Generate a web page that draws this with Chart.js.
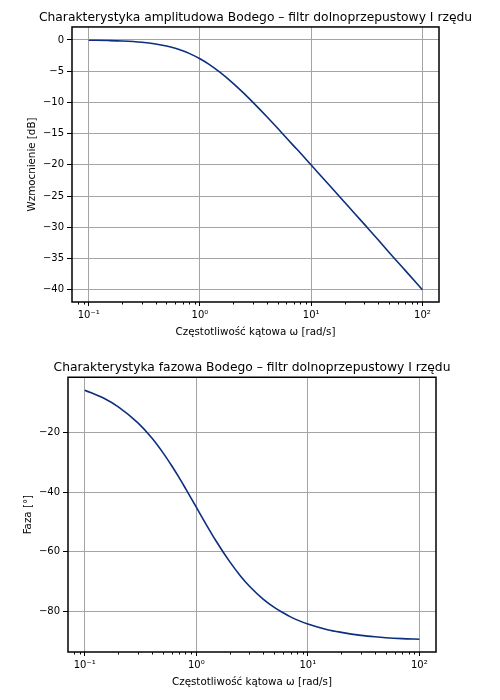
<!DOCTYPE html>
<html>
<head>
<meta charset="utf-8">
<script src="https://cdn.jsdelivr.net/npm/chart.js@4.4.0/dist/chart.umd.min.js"></script>
<style>
  html, body { margin: 0; padding: 0; background: #fff; }
  .box { position: absolute; left: 0; width: 500px; height: 350px; }
  #b1 { top: 0; } #b2 { top: 350px; }
</style>
</head>
<body>
<div class="box" id="b1"><canvas id="c1" width="500" height="350"></canvas></div>
<div class="box" id="b2"><canvas id="c2" width="500" height="350"></canvas></div>
<script>
const omega = [0.1, 0.15, 0.2, 0.3, 0.4, 0.5, 0.6, 0.7, 0.8, 1, 1.2, 1.5, 2, 2.5, 3, 4, 5, 6, 7, 8, 10, 15, 20, 30, 40, 50, 70, 100];
// Gain [dB]
const gainDb = [-0.04, -0.1, -0.17, -0.37, -0.64, -0.97, -1.34, -1.73, -2.15, -3.01, -3.87, -5.12, -6.99, -8.6, -10.0, -12.3, -14.15, -15.7, -17.0, -18.1, -20.04, -23.5, -26.0, -29.5, -32.0, -34.0, -36.9, -40.0];
// Phase [deg]
const phaseDeg = [-5.7, -8.5, -11.3, -16.7, -21.8, -26.6, -31.0, -35.0, -38.7, -45.0, -50.2, -56.3, -63.4, -68.2, -71.6, -76.0, -78.7, -80.5, -81.9, -82.9, -84.3, -86.2, -87.1, -88.1, -88.6, -88.9, -89.2, -89.4];

const xMajorTicks = [0.1, 1, 10, 100];
const xTickLabels = ['10\u207B\u00B9', '10\u2070', '10\u00B9', '10\u00B2'];
const xMinorTicks = [0.08, 0.09, 0.2, 0.3, 0.4, 0.5, 0.6, 0.7, 0.8, 0.9, 2, 3, 4, 5, 6, 7, 8, 9, 20, 30, 40, 50, 60, 70, 80, 90];
const gainTicks = [0, -5, -10, -15, -20, -25, -30, -35, -40];
const phaseTicks = [-20, -40, -60, -80];

const FONT = 'DejaVu Sans';
const LINE = '#0b2f7e';
const GRID = '#a4a4a4';

const framePlugin = {
  id: 'frame',
  afterDatasetsDraw(chart) {
    const ctx = chart.ctx, a = chart.chartArea;
    const xs = chart.scales.x;
    ctx.save();
    ctx.strokeStyle = '#000';
    ctx.lineWidth = 1;
    ctx.beginPath();
    xMinorTicks.forEach(v => {
      if (v < xs.min || v > xs.max) return;
      const px = Math.round(xs.getPixelForValue(v)) + 0.5;
      ctx.moveTo(px, a.bottom);
      ctx.lineTo(px, a.bottom + 2.5);
    });
    ctx.stroke();
    ctx.lineWidth = 1.5;
    ctx.strokeRect(a.left, a.top, a.right - a.left, a.bottom - a.top);
    ctx.restore();
  }
};

function makeChart(id, cfg) {
  const points = omega.map((w, i) => ({ x: w, y: cfg.values[i] }));
  return new Chart(document.getElementById(id), {
    type: 'line',
    data: { datasets: [{ data: points, borderColor: LINE, borderWidth: 1.6, pointRadius: 0, fill: false, cubicInterpolationMode: 'monotone' }] },
    plugins: [framePlugin],
    options: {
      responsive: false,
      animation: false,
      devicePixelRatio: 1,
      layout: { padding: { left: cfg.padLeft, right: 0, top: 0, bottom: 0 } },
      plugins: {
        legend: { display: false },
        tooltip: { enabled: false },
        title: {
          display: true, text: cfg.title, color: '#000',
          font: { family: FONT, size: 12.3, weight: 'normal' },
          padding: { top: cfg.titleTop, bottom: cfg.titleBottom }
        }
      },
      scales: {
        x: {
          type: 'logarithmic', min: 0.0708, max: 141,
          afterBuildTicks: s => { s.ticks = xMajorTicks.map(v => ({ value: v })); },
          afterFit: s => { s.height = cfg.xAxisHeight; },
          ticks: {
            color: '#000', font: { family: FONT, size: 10 }, padding: 3, maxRotation: 0, autoSkip: false,
            callback: v => { const i = xMajorTicks.indexOf(v); return i >= 0 ? xTickLabels[i] : ''; }
          },
          grid: { color: GRID, lineWidth: 1, tickColor: '#000', tickLength: 4, drawTicks: true },
          border: { display: false },
          title: { display: true, text: 'Częstotliwość kątowa ω [rad/s]', color: '#000', font: { family: FONT, size: 10.3 }, padding: { top: 0, bottom: cfg.xTitleBottom } }
        },
        y: {
          type: 'linear', position: 'left', min: cfg.yMin, max: cfg.yMax,
          afterBuildTicks: s => { s.ticks = cfg.yTicks.map(v => ({ value: v })); },
          afterFit: s => { s.width = cfg.yAxisWidth; },
          ticks: {
            color: '#000', font: { family: FONT, size: 10 }, padding: 3,
            callback: v => (v < 0 ? '\u2212' + Math.abs(v) : String(v))
          },
          grid: { color: GRID, lineWidth: 1, tickColor: '#000', tickLength: 5, drawTicks: true },
          border: { display: false },
          title: { display: true, text: cfg.yTitle, color: '#000', font: { family: FONT, size: 10.3 }, padding: { top: cfg.yTitlePad, bottom: 0 } }
        },
        yRight: {
          type: 'linear', position: 'right', display: true,
          afterFit: s => { s.width = cfg.rightWidth; },
          ticks: { display: false },
          grid: { display: false, drawTicks: false },
          border: { display: false }
        }
      }
    }
  });
}

makeChart('c1', {
  values: gainDb, title: 'Charakterystyka amplitudowa Bodego – filtr dolnoprzepustowy I rzędu',
  yTitle: 'Wzmocnienie [dB]', yTicks: gainTicks, yMin: -41.97, yMax: 2.08,
  padLeft: 11, yAxisWidth: 61, rightWidth: 61, yTitlePad: 15,
  titleTop: 10, titleBottom: 2.2,
  xAxisHeight: 48, xTitleBottom: 11
});
makeChart('c2', {
  values: phaseDeg, title: 'Charakterystyka fazowa Bodego – filtr dolnoprzepustowy I rzędu',
  yTitle: 'Faza [°]', yTicks: phaseTicks, yMin: -93.7, yMax: -1.35,
  padLeft: 4, yAxisWidth: 64, rightWidth: 64, yTitlePad: 18,
  titleTop: 10, titleBottom: 2.5,
  xAxisHeight: 48, xTitleBottom: 11
});
</script>
</body>
</html>
